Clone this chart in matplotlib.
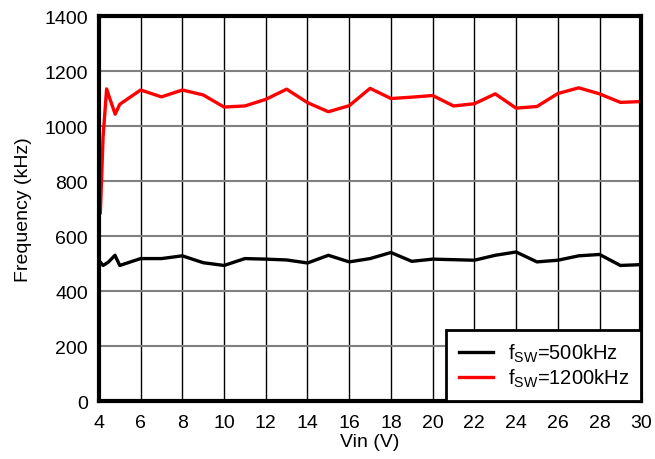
import matplotlib
matplotlib.use("Agg")
import matplotlib.pyplot as plt

plt.rcParams['font.family'] = ['Liberation Sans', 'DejaVu Sans']
plt.rcParams['mathtext.fontset'] = 'custom'
plt.rcParams['mathtext.rm'] = 'Liberation Sans'

vin_500 = [4.0, 4.2, 4.45, 4.77, 5.0, 6, 7, 8, 9, 10, 11, 12, 13, 14, 15, 16, 17, 18, 19, 20,
           21, 22, 23, 24, 25, 26, 27, 28, 29, 30]
f_500 = [511, 493, 505, 530, 493, 518, 518, 528, 503, 493, 518, 516, 513, 502, 530, 506, 518, 540, 508, 516,
         514, 512, 530, 542, 506, 512, 528, 533, 493, 496]

vin_1200 = [4.07, 4.2, 4.37, 4.5, 4.78, 5.0, 6, 7, 8, 9, 10, 11, 12, 13, 14, 15, 16, 17, 18, 19, 20,
            21, 22, 23, 24, 25, 26, 27, 28, 29, 30]
f_1200 = [685, 960, 1135, 1105, 1043, 1079, 1131, 1106, 1131, 1113, 1069, 1073, 1097, 1134, 1085, 1052, 1074, 1137, 1100, 1105, 1111,
          1073, 1081, 1117, 1065, 1071, 1118, 1139, 1117, 1086, 1089]

labels = [r'f$_{\mathregular{SW}}$=500kHz', r'f$_{\mathregular{SW}}$=1200kHz']
xticks = list(range(4, 31, 2))
yticks = list(range(0, 1401, 200))

fig = plt.figure(figsize=(6.55, 4.6), dpi=100)
ax = fig.add_axes([0.151, 0.126, 0.828, 0.837])
ax.plot(vin_500, f_500, color='black', lw=2.4, label=labels[0])
ax.plot(vin_1200, f_1200, color='#ff0000', lw=2.4, label=labels[1])
ax.set_xlim(4, 30)
ax.set_ylim(0, 1400)
ax.set_xticks(xticks)
ax.set_yticks(yticks)
ax.tick_params(length=0, labelsize=14)
ax.tick_params(axis='x', pad=9)
ax.tick_params(axis='y', pad=8)
ax.yaxis.grid(True, color='#808080', lw=1.5)
ax.xaxis.grid(True, color='black', lw=1.0)
ax.set_axisbelow(True)
for s in ax.spines.values():
    s.set_linewidth(3)
ax.set_xlabel('Vin (V)', fontsize=14, labelpad=2)
ax.set_ylabel('Frequency (kHz)', fontsize=14, labelpad=9)
leg = ax.legend(loc='lower right', fontsize=14.5, fancybox=False, framealpha=1,
                edgecolor='black', borderaxespad=0, handlelength=1.7,
                borderpad=0.6, labelspacing=0.12, handletextpad=0.75)
leg.get_frame().set_linewidth(2)
fig.savefig('out.png', dpi=100)
